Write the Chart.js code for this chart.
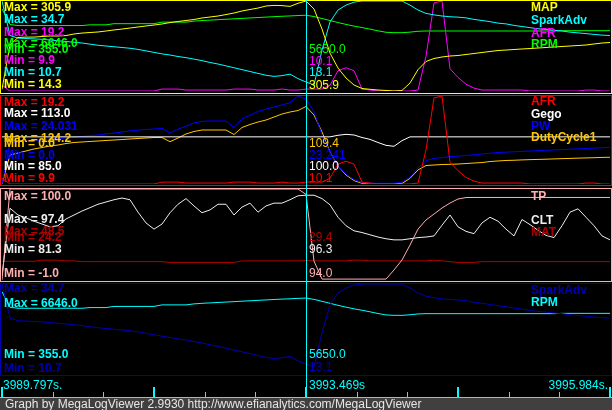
<!DOCTYPE html>
<html><head><meta charset="utf-8">
<script src="https://cdn.jsdelivr.net/npm/chart.js@4.4.1/dist/chart.umd.min.js"></script>
<style>
html,body{margin:0;padding:0;background:#000;}
#wrap{position:relative;width:612px;height:410px;overflow:hidden;background:#000;}
canvas{position:absolute;left:0;z-index:1;}
.t{position:absolute;z-index:5;white-space:nowrap;font-family:"Liberation Sans",Arial,sans-serif;font-size:12px;line-height:14px;}
.b{font-weight:bold;}
#footer{position:absolute;z-index:5;left:0;top:398px;width:612px;height:12px;background:#404040;color:#E6E6E6;font-family:"Liberation Sans",Arial,sans-serif;font-size:12px;line-height:12px;padding-left:5px;box-sizing:border-box;white-space:nowrap;overflow:hidden;}
</style></head>
<body><div id="wrap"></div>
<script>
// ---------------- data ----------------
const records = Array.from({length: 77}, (_, i) => i);   // log record index
const cursorRecord = 38;
const timeLabels = ['3989.797s.', '3993.469s', '3995.984s.'];
const footerText = 'Graph by MegaLogViewer 2.9930 http://www.efianalytics.com/MegaLogViewer';

const MAP = [
 20.0,164.0,187.6,189.0,189.0,190.9,192.5,192.5,194.0,199.0,
 202.0,203.8,205.5,208.7,212.0,215.0,218.4,221.7,225.0,228.0,
 231.4,236.0,239.5,242.7,246.0,250.8,254.0,257.3,262.0,267.0,
 273.5,278.4,283.0,289.7,291.7,291.0,288.4,298.5,305.9,280.0,
 215.0,137.0,88.8,56.4,33.7,22.4,19.8,17.5,16.0,14.3,
 16.0,40.2,83.6,109.9,119.6,124.5,127.7,129.3,132.6,135.8,
 139.0,142.3,145.5,147.0,148.8,150.4,152.0,153.6,155.2,156.9,
 158.5,160.0,161.7,163.3,166.6,169.8,171.4];
const SparkAdv = [
 34.7,25.5,24.8,24.7,24.6,24.5,24.3,24.1,23.9,23.7,
 23.5,23.2,22.9,22.7,22.5,22.3,22.1,21.8,21.4,21.0,
 20.6,20.3,19.9,19.6,19.2,18.8,18.3,17.9,17.4,16.9,
 16.4,15.9,15.4,14.9,14.6,14.8,15.2,14.0,13.1,12.3,
 21.6,29.1,32.3,33.6,34.4,34.7,34.7,34.7,34.7,34.7,
 34.7,33.6,32.3,31.4,31.0,30.7,30.5,30.4,30.2,29.8,
 29.5,29.2,28.8,28.6,28.2,27.9,27.6,27.3,27.1,26.9,
 26.7,26.4,26.2,26.0,25.8,25.6,25.5];
const AFR = [
 10.5,9.9,9.9,9.9,9.9,9.9,9.9,9.9,9.9,9.9,
 9.9,9.9,9.9,9.9,9.9,9.9,9.9,9.9,9.9,9.9,
 10.1,10.1,10.1,10.0,10.0,10.0,10.0,10.0,10.0,10.1,
 10.1,10.1,10.0,10.0,10.0,10.1,10.0,10.0,10.1,10.1,
 10.1,10.5,12.0,12.3,12.0,10.1,10.0,9.9,9.9,9.9,
 9.9,9.9,10.0,13.5,19.0,19.2,12.2,11.3,10.6,10.2,
 10.0,10.0,10.0,10.0,10.0,10.0,9.9,9.9,9.9,9.9,
 9.9,9.9,9.9,10.0,10.0,9.9,9.9];
const RPM = [
 6100,5000,4930,4930,4930,4930,4930,4930,4930,4930,
 4930,4980,4980,4980,5060,5060,5060,5060,5060,5060,
 5170,5170,5170,5170,5240,5280,5310,5340,5370,5400,
 5430,5460,5490,5520,5550,5580,5600,5630,5650,5560,
 5420,5280,5140,5010,4890,4790,4680,4560,4460,4430,
 4430,4470,4530,4550,4550,4550,4550,4550,4550,4550,
 4550,4550,4550,4550,4550,4550,4550,4550,4550,4550,
 4570,4570,4570,4570,4570,4570,4570];
const Gego = [
 100,100,100,100,100,100,100,100,100,100,
 100,100,100,100,100,100,100,100,100,100,
 100,100,100,100,100,100,100,100,100,100,
 100,100,100,100,100,100,100,100,100,100,
 100,100,100.5,100.8,100.6,99.8,99.2,98.2,97.3,97.0,
 98.8,100,100,100,100,100,100,100,100,100,
 100,100,100,100,100,100,100,100,100,100,
 100,100,100,100,100,100,100];
const PW = [
 0.0,11.2,11.5,11.7,11.9,12.0,12.3,12.4,12.6,12.7,
 13.0,13.2,13.4,13.7,13.9,14.2,14.5,14.7,14.9,15.0,
 15.2,13.9,15.0,15.8,16.7,17.1,17.2,17.2,17.2,15.4,
 17.8,18.8,19.8,20.5,21.0,21.6,22.2,24.031,23.241,19.7,
 13.4,8.7,4.9,2.7,1.2,0.4,0.2,0.2,0.2,0.2,
 0.5,1.9,4.4,6.4,7.0,7.2,7.5,7.6,7.8,8.0,
 8.2,8.4,8.6,8.7,8.8,8.9,9.0,9.1,9.2,9.3,
 9.4,9.5,9.6,9.7,9.8,9.9,10.0];
const DutyCycle1 = [
 0.0,40.9,43.7,46.6,49.4,51.5,53.6,55.0,57.1,58.6,
 59.3,60.0,60.7,61.4,62.1,62.8,63.5,64.2,64.9,65.6,
 65.6,59.7,64.9,70.6,74.1,76.2,76.2,76.2,76.2,69.8,
 79.7,84.0,87.5,90.3,94.5,98.8,101.6,103.7,109.4,97.4,
 73.4,45.2,25.4,12.7,4.9,1.0,0.7,0.7,0.7,0.7,
 0.7,8.0,19.8,26.1,26.8,27.5,27.8,28.2,28.9,29.6,
 30.3,31.7,32.5,33.2,33.5,34.0,34.4,34.7,35.0,35.4,
 35.8,36.1,36.5,36.8,37.1,37.5,37.7];
const TP = [
 -1.0,100,100,100,100,100,100,100,100,100,
 100,100,100,100,100,100,100,100,100,100,
 100,100,100,100,100,100,100,100,100,100,
 100,100,100,100,100,100,100,100,94.0,20.0,
 0.0,0.0,0.0,0.0,0.0,0.0,0.0,0.0,0.0,10.1,
 21.2,37.8,55.5,65.6,72.2,78.9,84.4,88.9,90.5,90.6,
 90.6,90.6,90.6,90.6,90.6,90.6,90.6,90.6,90.6,90.6,
 90.6,90.6,90.6,90.6,90.6,90.6,90.6];
const CLT = [
 82.0,94.0,92.8,92.3,91.7,91.2,90.7,90.9,92.1,92.8,
 93.5,94.1,94.7,95.1,95.5,95.8,95.5,93.3,91.4,90.3,
 91.2,93.2,94.7,95.7,94.4,93.2,93.7,94.7,94.7,92.8,
 94.2,94.9,93.3,94.4,94.9,94.9,95.5,96.2,96.3,96.3,
 95.7,94.6,92.4,90.9,90.0,89.7,89.3,88.9,88.6,88.4,
 88.4,88.6,88.8,88.9,89.1,91.0,92.8,90.7,89.9,89.5,
 91.4,92.4,91.7,90.3,89.1,92.0,91.1,90.1,89.2,88.8,
 90.9,93.3,93.9,92.4,90.9,89.1,88.4];
const MAT = [
 29.2,29.2,29.2,29.2,29.2,29.5,29.5,29.5,29.3,29.3,
 29.1,29.1,29.1,29.1,29.1,29.1,29.1,29.1,29.1,29.1,
 29.1,28.9,28.9,28.9,28.9,28.9,28.9,28.9,28.9,28.9,
 29.3,29.3,29.3,29.3,29.3,29.3,29.3,29.3,29.4,29.3,
 29.3,29.3,29.3,29.3,29.5,29.5,29.3,29.3,29.3,29.3,
 29.3,29.3,29.3,29.3,29.5,29.3,29.1,28.9,28.9,28.9,
 29.1,29.1,29.1,29.1,29.1,29.1,29.1,29.1,29.1,29.1,
 29.1,29.1,29.1,29.1,29.1,29.1,29.1];

// logged min / max of each channel (shown as Max = / Min = texts)
const ranges = {
  MAP: [14.3, 305.9], SparkAdv: [10.7, 34.7], AFR: [9.9, 19.2], RPM: [355, 6646],
  Gego: [85, 113], PW: [0, 24.031], DutyCycle1: [0, 124.2],
  TP: [-1, 100], CLT: [81.3, 97.4], MAT: [24.2, 48.5]
};
const channels = { MAP, SparkAdv, AFR, RPM, Gego, PW, DutyCycle1, TP, CLT, MAT };

// ---------------- layout / style ----------------
const panels = [
  { top: 0, height: 95, boxH: 93, padBottom: 4, border: '#FFFF00', series: [
    { name: 'MAP', color: '#FFFF00', maxY: 6.7, minY: 83.8, legY: 6.7, curY: 84.7 },
    { name: 'SparkAdv', color: '#00FFFF', maxY: 19.2, minY: 72.3, legY: 19.5, curY: 72.3 },
    { name: 'AFR', color: '#FF00FF', maxY: 31.8, minY: 60.2, legY: 32.5, curY: 60.5 },
    { name: 'RPM', color: '#00FF00', maxY: 43.3, minY: 49.2, legY: 43.8, curY: 48.8 } ] },
  { top: 95, height: 93, boxH: 90, padBottom: 4, border: '#FF0000', series: [
    { name: 'AFR', color: '#FF0000', maxY: 101.8, minY: 177.5, legY: 101.2, curY: 177.8 },
    { name: 'Gego', color: '#FFFFFF', maxY: 113.3, minY: 165.8, legY: 113.7, curY: 165.8 },
    { name: 'PW', color: '#0000FF', maxY: 126.2, minY: 155.3, legY: 125.5, curY: 155.2 },
    { name: 'DutyCycle1', color: '#FFC800', maxY: 137.5, minY: 143.2, legY: 137.2, curY: 142.5 } ] },
  { top: 188, height: 95, boxH: 93, padBottom: 3, border: '#FFAFAF', series: [
    { name: 'TP', color: '#FFAFAF', maxY: 195.8, minY: 272.5, legY: 195.5, curY: 272.5 },
    { name: 'CLT', color: '#EEEEEE', maxY: 219, minY: 248.5, legY: 219.5, curY: 248.5 },
    { name: 'MAT', color: '#B20000', maxY: 230.8, minY: 237, legY: 231.5, curY: 237 } ] },
  { top: 283, height: 93, boxH: 92, padBottom: 3, border: '#0000B2', series: [
    { name: 'SparkAdv', color: '#0000B2', maxY: 288.3, minY: 367.5, legY: 289.5, curY: 367 },
    { name: 'RPM', color: '#00FFFF', maxY: 302.5, minY: 354.3, legY: 301.7, curY: 353.7 } ] }
];
const cursorColor = '#00FFFF';

function fmt(v) { return Number.isInteger(v) ? v.toFixed(1) : String(v); }

const wrap = document.getElementById('wrap');
function addText(txt, x, cy, color, bold, alignRight) {
  const d = document.createElement('div');
  d.className = 't' + (bold ? ' b' : '');
  d.textContent = txt;
  d.style.color = color;
  d.style.top = (cy - 7) + 'px';
  if (alignRight) d.style.right = (612 - x) + 'px'; else d.style.left = x + 'px';
  wrap.appendChild(d);
}

const panelDecor = {
  id: 'panelDecor',
  beforeDatasetsDraw(chart, args, opts) {
    const ctx = chart.ctx;
    ctx.save();
    ctx.strokeStyle = opts.border; ctx.lineWidth = 1;
    ctx.strokeRect(0.5, 0.5, chart.width - 1, opts.boxH);
    ctx.restore();
  },
  afterDatasetsDraw(chart) {
    const ctx = chart.ctx;
    const x = Math.round(chart.scales.x.getPixelForValue(cursorRecord)) + 0.5;
    ctx.save();
    ctx.strokeStyle = cursorColor; ctx.lineWidth = 1;
    ctx.beginPath(); ctx.moveTo(x, 0); ctx.lineTo(x, chart.height); ctx.stroke();
    ctx.restore();
  }
};

panels.forEach(p => {
  const cv = document.createElement('canvas');
  cv.width = 612; cv.height = p.height;
  cv.style.top = p.top + 'px';
  wrap.appendChild(cv);
  const scales = { x: { type: 'linear', min: records[0], max: records[records.length - 1], display: false } };
  const datasets = p.series.map((s, si) => {
    const id = 'y' + si;
    scales[id] = { type: 'linear', min: ranges[s.name][0], max: ranges[s.name][1], display: false };
    const vals = channels[s.name];
    return {
      label: s.name,
      data: records.map((r, i) => ({ x: r, y: vals[i] })),
      borderColor: s.color, borderWidth: 1, pointRadius: 0, tension: 0, fill: false,
      yAxisID: id, order: si
    };
  });
  new Chart(cv, {
    type: 'line',
    data: { datasets },
    options: {
      responsive: false, animation: false, devicePixelRatio: 1, events: [],
      layout: { padding: { left: 2, right: 2, top: 1, bottom: p.padBottom } },
      plugins: { legend: { display: false }, tooltip: { enabled: false },
                 panelDecor: { border: p.border, boxH: p.boxH } },
      scales
    },
    plugins: [panelDecor]
  });
  p.series.forEach(s => {
    const r = ranges[s.name];
    addText('Max = ' + fmt(r[1]), 4, s.maxY, s.color, true);
    addText('Min = ' + fmt(r[0]), 4, s.minY, s.color, true);
    addText(s.name, 531, s.legY, s.color, true);
    addText(fmt(channels[s.name][cursorRecord]), 309, s.curY, s.color, false);
  });
});

// time axis strip
const timeAxis = {
  id: 'timeAxis',
  afterDraw(chart) {
    const ctx = chart.ctx, xs = chart.scales.x, h = chart.height;
    ctx.save();
    ctx.fillStyle = cursorColor;
    ctx.fillRect(0, h - 1, chart.width, 1);
    const n = 12;
    for (let k = 0; k <= n; k++) {
      const px = Math.round(xs.getPixelForValue(xs.min + k * (xs.max - xs.min) / n));
      if (k % 3 === 0) ctx.fillRect(px - 1, h - 11, 2, 11);
      else ctx.fillRect(px, h - 6, 1, 6);
    }
    const cx = Math.round(xs.getPixelForValue(cursorRecord));
    ctx.fillRect(cx, 0, 1, h);
    ctx.restore();
  }
};
const tcv = document.createElement('canvas');
tcv.width = 612; tcv.height = 22; tcv.style.top = '376px';
wrap.appendChild(tcv);
new Chart(tcv, {
  type: 'line',
  data: { datasets: [{ data: [] }] },
  options: {
    responsive: false, animation: false, devicePixelRatio: 1, events: [],
    layout: { padding: { left: 2, right: 2, top: 0, bottom: 0 } },
    plugins: { legend: { display: false }, tooltip: { enabled: false } },
    scales: { x: { type: 'linear', min: records[0], max: records[records.length - 1], display: false },
              y: { display: false } }
  },
  plugins: [timeAxis]
});
addText(timeLabels[0], 3, 385, cursorColor, false);
addText(timeLabels[1], 309, 385, cursorColor, false);
addText(timeLabels[2], 608, 385, cursorColor, false, true);

const f = document.createElement('div');
f.id = 'footer'; f.textContent = footerText;
wrap.appendChild(f);
</script>
</body></html>
